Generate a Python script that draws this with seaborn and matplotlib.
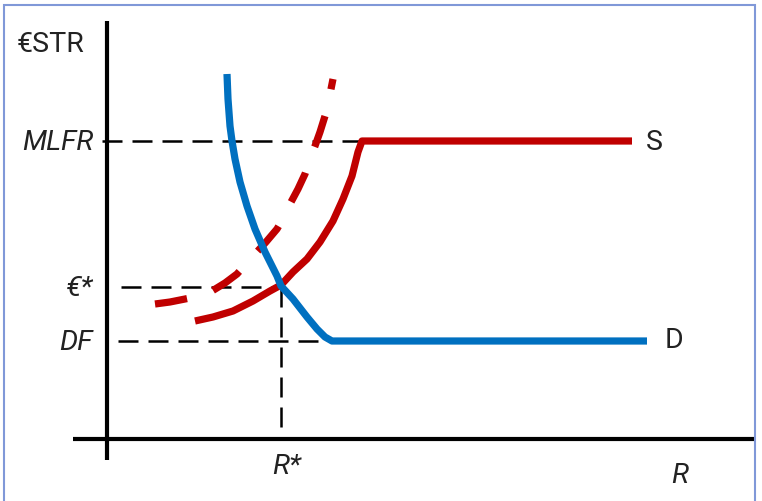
import matplotlib
matplotlib.use("Agg")
import matplotlib.pyplot as plt
import seaborn as sns
import pandas as pd
from matplotlib.patches import Rectangle

# ---- data (schematic units: origin at axes intersection) ----
demand_x = [120, 121, 123, 125, 128, 133, 140, 148, 158, 170, 174, 186, 200, 210, 218, 225, 540]
demand_y = [365, 340, 313, 298, 280, 257, 233, 210, 187, 163, 153, 140, 122, 110, 102, 98, 98]

supply_x = [88, 106, 126, 146, 163, 174, 186, 200, 213, 226, 236, 245, 251, 255, 525]
supply_y = [118, 122, 128, 138, 148, 154, 167, 180, 197, 218, 240, 263, 287, 298, 298]

supply2_x = [48, 63, 78, 93, 105, 118, 130, 139, 148, 159, 170, 177, 183, 191, 198, 203, 208, 213, 218, 222, 226]
supply2_y = [135, 137, 140, 143, 148, 156, 165, 175, 185, 197, 210, 222, 235, 250, 265, 280, 293, 307, 323, 340, 360]

level_names = ["MLFR", "€*", "DF"]
level_values = [298, 152, 98]
level_starts = [-5, 14, 11]
level_ends = [308, 175, 225]
r_star = 174

curve_labels = ["S", "D"]
axis_title_y = "€STR"
axis_title_x = "R"
r_star_label = "R*"

BLUE = "#0070C0"
RED = "#C00000"
TXT = "#222222"

sns.set_style("white")
plt.rcParams["font.family"] = ["Roboto", "DejaVu Sans"]

fig = plt.figure(figsize=(7.62, 5.02), dpi=100)
ax = fig.add_axes([0, 0, 1, 1])
ax.set_xlim(-107, 655)
ax.set_ylim(-62, 440)

# axes lines
for s in ["top", "right"]:
    ax.spines[s].set_visible(False)
ax.spines["left"].set_position(("data", 0))
ax.spines["bottom"].set_position(("data", 0))
ax.spines["left"].set_bounds(-21, 418)
ax.spines["bottom"].set_bounds(-34, 649)
for s in ["left", "bottom"]:
    ax.spines[s].set_linewidth(3)
    ax.spines[s].set_color("black")
    ax.spines[s].set_capstyle("butt")
ax.set_xticks([])
ax.set_yticks([])

# guide lines
GUIDE = dict(color="black", lw=1.8, ls=(0, (8, 4)), zorder=1)
for val, x0, x1 in zip(level_values, level_starts, level_ends):
    ax.plot([x0, x1], [val, val], **GUIDE)
ax.plot([r_star, r_star], [level_values[1], 4], **GUIDE)

# curves
df_d = pd.DataFrame({"x": demand_x, "y": demand_y})
df_s = pd.DataFrame({"x": supply_x, "y": supply_y})
df_s2 = pd.DataFrame({"x": supply2_x, "y": supply2_y})
sns.lineplot(data=df_s2, x="x", y="y", sort=False, estimator=None, ax=ax,
             color=RED, lw=5.2, linestyle=(0, (4.5, 3.8)), zorder=3)
sns.lineplot(data=df_s, x="x", y="y", sort=False, estimator=None, ax=ax,
             color=RED, lw=5.2, zorder=3, solid_capstyle="butt", solid_joinstyle="round")
sns.lineplot(data=df_d, x="x", y="y", sort=False, estimator=None, ax=ax,
             color=BLUE, lw=5.2, zorder=4, solid_capstyle="butt", solid_joinstyle="round")
ax.set_xlabel("")
ax.set_ylabel("")

FS = 20.5
# labels
ax.text(-57, 395, axis_title_y, fontsize=FS, color=TXT, ha="center", va="center")
for name, val in zip(level_names, level_values):
    ax.text(-14, val - 1, name, fontsize=FS, color=TXT, ha="right", va="center", style="italic")
ax.text(r_star + 6, -27, r_star_label, fontsize=FS, color=TXT, ha="center", va="center", style="italic")
ax.text(573, -36, axis_title_x, fontsize=FS, color=TXT, ha="center", va="center", style="italic")
ax.text(539, supply_y[-1] - 1, curve_labels[0], fontsize=FS, color=TXT, ha="left", va="center")
ax.text(558, demand_y[-1] + 2, curve_labels[1], fontsize=FS, color=TXT, ha="left", va="center")

# frame border
fig.patches.append(Rectangle((4 / 762, -0.02), 751 / 762, 1.02 - 6 / 502,
                             transform=fig.transFigure, fill=False,
                             edgecolor="#8098D8", lw=1.5, zorder=10))

fig.savefig("out.png", dpi=100)
